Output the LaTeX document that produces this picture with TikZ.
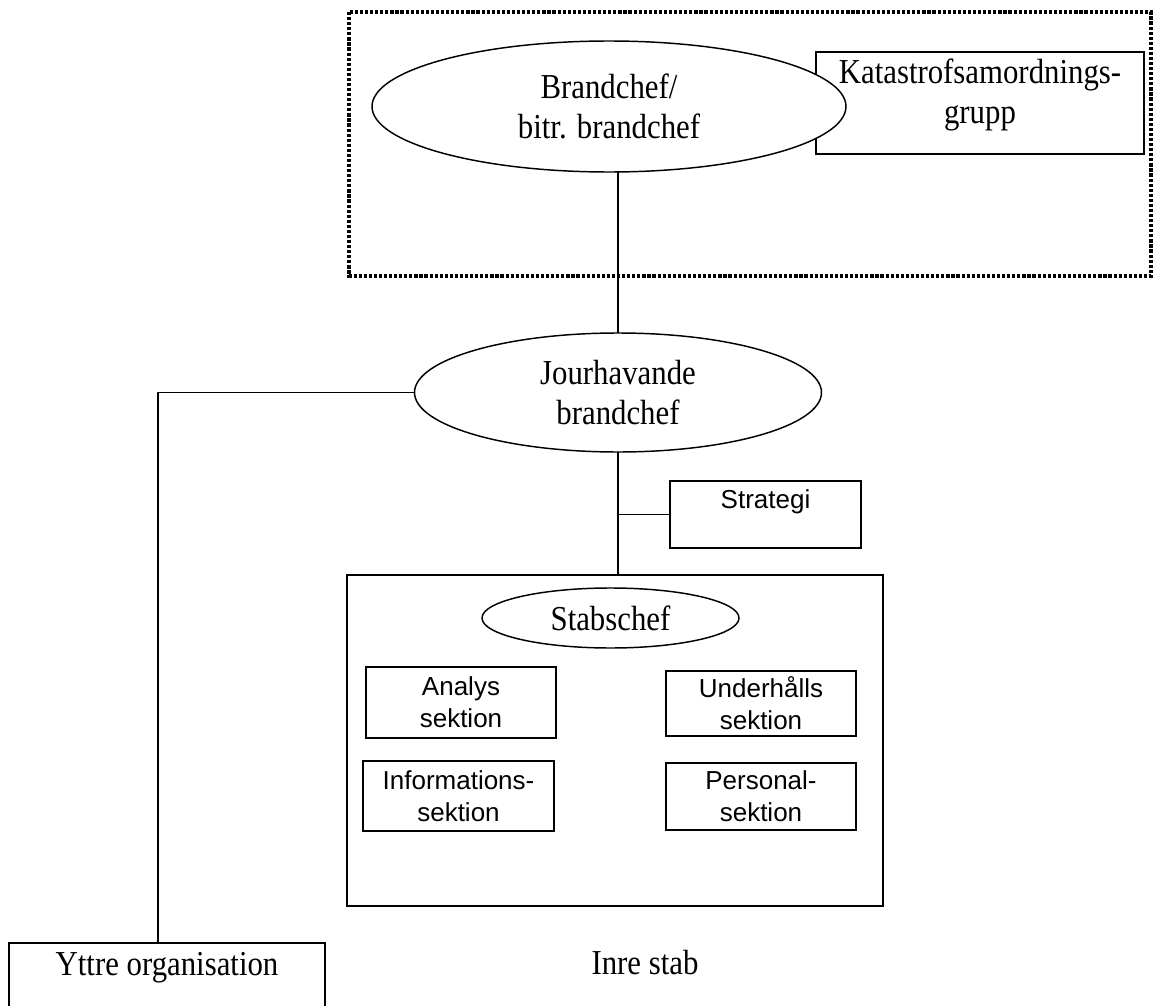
\documentclass[tikz,border=0pt]{standalone}
\usepackage{fontspec}
\setmainfont{Liberation Serif}[FakeStretch=0.88]
\newfontfamily\arialfont{Liberation Sans}
\usetikzlibrary{calc,shapes.geometric,backgrounds}

\begin{document}
\begin{tikzpicture}[x=0.75pt,y=-0.75pt,every node/.style={outer sep=0pt,line width=1.1pt}]
	\tikzstyle{oval}=[ellipse,draw,inner sep=0pt,align=center,font=\fontsize{26.25}{30}\selectfont]
	\tikzstyle{ruta}=[rectangle,draw,inner sep=0pt,align=center,font=\fontsize{26.25}{30}\selectfont]
	\tikzstyle{sektion}=[rectangle,draw,inner sep=0pt,align=center,minimum width=142.5pt,font=\arialfont\fontsize{19.5}{24}\selectfont]
	\tikzstyle{ledning}=[line width=2.4pt,dash pattern=on 2.4pt off 1.4pt]
	\tikzstyle{linje}=[line width=1pt]

	\useasboundingbox (0,0) rectangle (1154,1006);

	\draw [ledning] (349,12) rectangle (1151,276);										% Ledning
	\begin{scope}[on background layer]
		\node (katgrupp) [ruta, minimum width=246pt, minimum height=76.5pt] at (980,103) {};
	\end{scope}
	\node (brandchef) [oval, fill=white, minimum width=355.5pt, minimum height=98.25pt] at (609,106.5) {Brandchef/\\bitr. brandchef};
	\node (kattext) [ruta, draw=none] at ($(katgrupp.center)+(0,-8)$) {Katastrofsamordnings-\\grupp};

	\node (jour) [oval, minimum width=305.25pt, minimum height=89.25pt] at (618,392.5) {Jourhavande\\brandchef};
	\draw [linje] (jour.north) -- (jour.north |- brandchef.south);

	\node (strategi) [sektion, minimum width=143.25pt, text height=20.25pt, text depth=30pt] at (765.5,514.5) {Strategi};

	\node (inrestab) [ruta, minimum width=402pt, minimum height=248.25pt] at (615,740.5) {};		% Inre stab
	\draw [linje] (jour.south) -- (jour.south |- inrestab.north);
	\draw [linje] (strategi.west) -- (strategi.west -| jour.south);

	\node (stabschef) [oval, minimum width=192.75pt, minimum height=45pt] at (610.5,618) {Stabschef};
	\node (analys) [sektion, minimum height=53.25pt] at (461,702.5) {Analys\\sektion};
	\node (underhall) [sektion, minimum height=48.75pt] at (761,703.5) {Underhålls\\sektion};
	\node (information) [sektion, minimum width=143.25pt, minimum height=52.5pt] at (458.5,796) {Informations-\\sektion};
	\node (personal) [sektion, minimum height=50.25pt] at (761,796.5) {Personal-\\sektion};
	\node (inrelabel) [font=\fontsize{26.25}{30}\selectfont] at (645,963) {Inre stab};

	\node (yttre) [ruta, minimum width=237pt, text height=24pt, text depth=30pt] at (167,979) {Yttre organisation};
	\coordinate (knee) at (158,392.5);
	\draw [linje] (jour.west) -- (knee) -- (knee |- yttre.north);							% Yttre organisation
\end{tikzpicture}
\end{document}
